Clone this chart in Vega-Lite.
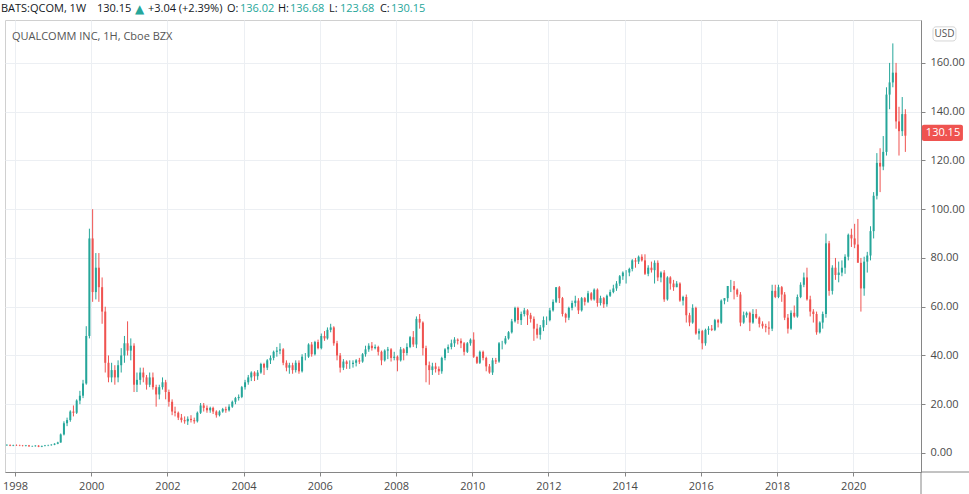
{
  "$schema": "https://vega.github.io/schema/vega-lite/v6.json",
  "width": 916,
  "height": 452,
  "autosize": {"type": "none"},
  "padding": {"left": 5, "top": 20, "right": 48, "bottom": 22},
  "background": "white",
  "config": {
    "view": {"stroke": "#d0d0d0", "strokeWidth": 1},
    "font": "Open Sans",
    "axis": {
      "labelFont": "Open Sans",
      "labelFontSize": 11,
      "labelColor": "#4a4a4a",
      "domainColor": "#868686",
      "tickColor": "#868686",
      "tickSize": 4,
      "gridColor": "#eceff3",
      "labelPadding": 4,
      "title": null
    }
  },
  "datasets": {
    "qcom": [
      {"d":"1997-10-15","o":3.2,"h":3.6,"l":2.9,"c":3.3},
      {"d":"1997-11-15","o":3.3,"h":3.5,"l":2.8,"c":3.0},
      {"d":"1997-12-15","o":3.0,"h":3.4,"l":2.8,"c":3.2},
      {"d":"1998-01-15","o":3.2,"h":3.5,"l":2.9,"c":3.1},
      {"d":"1998-02-15","o":3.1,"h":3.4,"l":2.8,"c":3.0},
      {"d":"1998-03-15","o":3.0,"h":3.3,"l":2.7,"c":2.9},
      {"d":"1998-04-15","o":2.9,"h":3.3,"l":2.7,"c":3.1},
      {"d":"1998-05-15","o":3.1,"h":3.3,"l":2.6,"c":2.7},
      {"d":"1998-06-15","o":2.7,"h":3.0,"l":2.5,"c":2.8},
      {"d":"1998-07-15","o":2.8,"h":3.2,"l":2.6,"c":3.0},
      {"d":"1998-08-15","o":3.0,"h":3.2,"l":2.4,"c":2.6},
      {"d":"1998-09-15","o":2.6,"h":3.0,"l":2.4,"c":2.9},
      {"d":"1998-10-15","o":2.9,"h":3.3,"l":2.7,"c":3.1},
      {"d":"1998-11-15","o":3.1,"h":3.4,"l":2.8,"c":3.2},
      {"d":"1998-12-15","o":3.2,"h":3.6,"l":3.0,"c":3.4},
      {"d":"1999-01-15","o":3.4,"h":4.0,"l":3.2,"c":3.8},
      {"d":"1999-02-15","o":3.8,"h":4.6,"l":3.6,"c":4.3},
      {"d":"1999-03-15","o":4.3,"h":8.0,"l":4.2,"c":7.6},
      {"d":"1999-04-15","o":7.6,"h":13.0,"l":7.2,"c":12.2},
      {"d":"1999-05-15","o":12.2,"h":14.5,"l":11.0,"c":13.5},
      {"d":"1999-06-15","o":13.5,"h":17.5,"l":12.8,"c":17.0},
      {"d":"1999-07-15","o":17.0,"h":19.5,"l":15.0,"c":16.5},
      {"d":"1999-08-15","o":16.5,"h":22.0,"l":16.0,"c":21.5},
      {"d":"1999-09-15","o":21.5,"h":25.5,"l":20.0,"c":23.5},
      {"d":"1999-10-15","o":23.5,"h":30.0,"l":22.5,"c":28.5},
      {"d":"1999-11-15","o":28.5,"h":52.0,"l":28.0,"c":48.0},
      {"d":"1999-12-15","o":48.0,"h":92.0,"l":47.0,"c":88.0},
      {"d":"2000-01-15","o":88,"h":100,"l":62,"c":66},
      {"d":"2000-02-15","o":66,"h":82,"l":63,"c":76},
      {"d":"2000-03-15","o":76,"h":82,"l":62,"c":68},
      {"d":"2000-04-15","o":68,"h":72,"l":53,"c":58},
      {"d":"2000-05-15","o":58,"h":60,"l":33,"c":37},
      {"d":"2000-06-15","o":37,"h":40,"l":29,"c":31},
      {"d":"2000-07-15","o":31,"h":37,"l":29,"c":34},
      {"d":"2000-08-15","o":34,"h":36,"l":28,"c":31},
      {"d":"2000-09-15","o":31,"h":38,"l":29,"c":36},
      {"d":"2000-10-15","o":36,"h":43,"l":33,"c":40},
      {"d":"2000-11-15","o":40,"h":48,"l":37,"c":45},
      {"d":"2000-12-15","o":45,"h":54,"l":40,"c":42},
      {"d":"2001-01-15","o":42,"h":47,"l":38,"c":44},
      {"d":"2001-02-15","o":44,"h":45,"l":25,"c":28},
      {"d":"2001-03-15","o":28,"h":33,"l":25,"c":30},
      {"d":"2001-04-15","o":30,"h":35,"l":28,"c":33},
      {"d":"2001-05-15","o":33,"h":35,"l":29,"c":31},
      {"d":"2001-06-15","o":31,"h":32,"l":26,"c":28},
      {"d":"2001-07-15","o":28,"h":33,"l":27,"c":31},
      {"d":"2001-08-15","o":31,"h":33,"l":26,"c":27},
      {"d":"2001-09-15","o":27,"h":28,"l":19,"c":24},
      {"d":"2001-10-15","o":24,"h":28,"l":22,"c":27},
      {"d":"2001-11-15","o":27,"h":31,"l":26,"c":29},
      {"d":"2001-12-15","o":29,"h":30,"l":22,"c":25},
      {"d":"2002-01-15","o":25,"h":26,"l":19,"c":21},
      {"d":"2002-02-15","o":21,"h":22,"l":15.5,"c":17},
      {"d":"2002-03-15","o":17,"h":19,"l":15,"c":16.5},
      {"d":"2002-04-15","o":16.5,"h":17,"l":13.5,"c":14.5},
      {"d":"2002-05-15","o":14.5,"h":16,"l":12.5,"c":13.5},
      {"d":"2002-06-15","o":13.5,"h":15,"l":12,"c":13},
      {"d":"2002-07-15","o":13,"h":15,"l":11.5,"c":14},
      {"d":"2002-08-15","o":14,"h":15.5,"l":12.5,"c":13.5},
      {"d":"2002-09-15","o":13.5,"h":14.5,"l":12,"c":13},
      {"d":"2002-10-15","o":13,"h":17,"l":12.5,"c":16.5},
      {"d":"2002-11-15","o":16.5,"h":20.5,"l":16,"c":19.5},
      {"d":"2002-12-15","o":19.5,"h":20.5,"l":17,"c":18.5},
      {"d":"2003-01-15","o":18.5,"h":19.5,"l":16.5,"c":17.5},
      {"d":"2003-02-15","o":17.5,"h":19,"l":16.5,"c":18.5},
      {"d":"2003-03-15","o":18.5,"h":19,"l":16,"c":17},
      {"d":"2003-04-15","o":17,"h":17.5,"l":14.5,"c":15.5},
      {"d":"2003-05-15","o":15.5,"h":17.5,"l":15,"c":17},
      {"d":"2003-06-15","o":17,"h":18.5,"l":16.5,"c":18},
      {"d":"2003-07-15","o":18,"h":19,"l":16.5,"c":17.5},
      {"d":"2003-08-15","o":17.5,"h":20,"l":17,"c":19},
      {"d":"2003-09-15","o":19,"h":21.5,"l":18.5,"c":21},
      {"d":"2003-10-15","o":21,"h":23,"l":20,"c":22.5},
      {"d":"2003-11-15","o":22.5,"h":24,"l":21.5,"c":23},
      {"d":"2003-12-15","o":23,"h":27.5,"l":22.5,"c":27},
      {"d":"2004-01-15","o":27,"h":30,"l":26,"c":29},
      {"d":"2004-02-15","o":29,"h":32,"l":28,"c":31},
      {"d":"2004-03-15","o":31,"h":33.5,"l":29.5,"c":33},
      {"d":"2004-04-15","o":33,"h":33.5,"l":29.5,"c":31.5},
      {"d":"2004-05-15","o":31.5,"h":34,"l":30,"c":33},
      {"d":"2004-06-15","o":33,"h":37,"l":32.5,"c":36.5},
      {"d":"2004-07-15","o":36.5,"h":37,"l":32,"c":35},
      {"d":"2004-08-15","o":35,"h":38.5,"l":34,"c":38},
      {"d":"2004-09-15","o":38,"h":40,"l":36.5,"c":39},
      {"d":"2004-10-15","o":39,"h":42,"l":38,"c":41.5},
      {"d":"2004-11-15","o":41.5,"h":43.5,"l":39.5,"c":42},
      {"d":"2004-12-15","o":42,"h":45,"l":40.5,"c":42.5},
      {"d":"2005-01-15","o":42.5,"h":43,"l":36,"c":37},
      {"d":"2005-02-15","o":37,"h":38,"l":33.5,"c":35},
      {"d":"2005-03-15","o":35,"h":37,"l":32.5,"c":36},
      {"d":"2005-04-15","o":36,"h":37,"l":32.5,"c":34},
      {"d":"2005-05-15","o":34,"h":38,"l":33,"c":37},
      {"d":"2005-06-15","o":37,"h":38,"l":32.5,"c":33.5},
      {"d":"2005-07-15","o":33.5,"h":40.5,"l":33,"c":39.5},
      {"d":"2005-08-15","o":39.5,"h":41,"l":38,"c":39.5},
      {"d":"2005-09-15","o":39.5,"h":45,"l":39,"c":44.5},
      {"d":"2005-10-15","o":44.5,"h":45.5,"l":39.5,"c":40.5},
      {"d":"2005-11-15","o":40.5,"h":46,"l":40,"c":45.5},
      {"d":"2005-12-15","o":45.5,"h":46.5,"l":42.5,"c":43},
      {"d":"2006-01-15","o":43,"h":49,"l":42.5,"c":48},
      {"d":"2006-02-15","o":48,"h":50,"l":46,"c":47},
      {"d":"2006-03-15","o":47,"h":51.5,"l":46.5,"c":50.5},
      {"d":"2006-04-15","o":50.5,"h":53,"l":49.5,"c":51.5},
      {"d":"2006-05-15","o":51.5,"h":52,"l":44,"c":45},
      {"d":"2006-06-15","o":45,"h":46,"l":38,"c":40},
      {"d":"2006-07-15","o":40,"h":41,"l":33,"c":35},
      {"d":"2006-08-15","o":35,"h":38.5,"l":34,"c":37.5},
      {"d":"2006-09-15","o":37.5,"h":38,"l":34.5,"c":36.5},
      {"d":"2006-10-15","o":36.5,"h":38,"l":34.5,"c":36.5},
      {"d":"2006-11-15","o":36.5,"h":38,"l":35,"c":37},
      {"d":"2006-12-15","o":37,"h":38.5,"l":35.5,"c":38},
      {"d":"2007-01-15","o":38,"h":39,"l":36.5,"c":37.5},
      {"d":"2007-02-15","o":37.5,"h":41,"l":37,"c":40.5},
      {"d":"2007-03-15","o":40.5,"h":44,"l":39.5,"c":42.5},
      {"d":"2007-04-15","o":42.5,"h":45,"l":41.5,"c":44},
      {"d":"2007-05-15","o":44,"h":45.5,"l":42,"c":43},
      {"d":"2007-06-15","o":43,"h":44.5,"l":42.5,"c":43.5},
      {"d":"2007-07-15","o":43.5,"h":44,"l":40,"c":41.5},
      {"d":"2007-08-15","o":41.5,"h":42,"l":36,"c":38},
      {"d":"2007-09-15","o":38,"h":42.5,"l":37.5,"c":42},
      {"d":"2007-10-15","o":42,"h":43.5,"l":38.5,"c":42.5},
      {"d":"2007-11-15","o":42.5,"h":43,"l":37.5,"c":39},
      {"d":"2007-12-15","o":39,"h":41.5,"l":38,"c":39.5},
      {"d":"2008-01-15","o":39.5,"h":40,"l":33.5,"c":38},
      {"d":"2008-02-15","o":38,"h":43.5,"l":37.5,"c":42.5},
      {"d":"2008-03-15","o":42.5,"h":43,"l":38,"c":41},
      {"d":"2008-04-15","o":41,"h":45,"l":40,"c":43.5},
      {"d":"2008-05-15","o":43.5,"h":48,"l":43,"c":47.5},
      {"d":"2008-06-15","o":47.5,"h":50,"l":43.5,"c":44.5},
      {"d":"2008-07-15","o":44.5,"h":56,"l":43,"c":55},
      {"d":"2008-08-15","o":55,"h":57,"l":51,"c":53.5},
      {"d":"2008-09-15","o":53.5,"h":54,"l":40,"c":43},
      {"d":"2008-10-15","o":43,"h":44,"l":29,"c":36},
      {"d":"2008-11-15","o":36,"h":37.5,"l":28,"c":34},
      {"d":"2008-12-15","o":34,"h":37,"l":32,"c":35.5},
      {"d":"2009-01-15","o":35.5,"h":37,"l":33,"c":34.5},
      {"d":"2009-02-15","o":34.5,"h":35.5,"l":32,"c":33.5},
      {"d":"2009-03-15","o":33.5,"h":39.5,"l":32.5,"c":39},
      {"d":"2009-04-15","o":39,"h":43,"l":38,"c":42.5},
      {"d":"2009-05-15","o":42.5,"h":44.5,"l":41,"c":43.5},
      {"d":"2009-06-15","o":43.5,"h":46.5,"l":42.5,"c":45},
      {"d":"2009-07-15","o":45,"h":47.5,"l":43.5,"c":46.5},
      {"d":"2009-08-15","o":46.5,"h":47,"l":44.5,"c":46},
      {"d":"2009-09-15","o":46,"h":47,"l":43,"c":45},
      {"d":"2009-10-15","o":45,"h":45.5,"l":40,"c":41.5},
      {"d":"2009-11-15","o":41.5,"h":45.5,"l":41,"c":45},
      {"d":"2009-12-15","o":45,"h":47,"l":44,"c":46.5},
      {"d":"2010-01-15","o":46.5,"h":49.5,"l":39,"c":39.5},
      {"d":"2010-02-15","o":39.5,"h":39.5,"l":36.5,"c":37},
      {"d":"2010-03-15","o":37,"h":42,"l":36.5,"c":41.5},
      {"d":"2010-04-15","o":41.5,"h":42,"l":38,"c":39},
      {"d":"2010-05-15","o":39,"h":39.5,"l":33.5,"c":35.5},
      {"d":"2010-06-15","o":35.5,"h":36.5,"l":32.5,"c":33},
      {"d":"2010-07-15","o":33,"h":39,"l":32,"c":38},
      {"d":"2010-08-15","o":38,"h":39,"l":36.5,"c":37.5},
      {"d":"2010-09-15","o":37.5,"h":45.5,"l":37,"c":45},
      {"d":"2010-10-15","o":45,"h":46,"l":42.5,"c":45},
      {"d":"2010-11-15","o":45,"h":48,"l":44.5,"c":47},
      {"d":"2010-12-15","o":47,"h":50,"l":46.5,"c":49.5},
      {"d":"2011-01-15","o":49.5,"h":55,"l":49,"c":54},
      {"d":"2011-02-15","o":54,"h":60,"l":53.5,"c":59.5},
      {"d":"2011-03-15","o":59.5,"h":60,"l":53,"c":54.5},
      {"d":"2011-04-15","o":54.5,"h":58,"l":52.5,"c":57},
      {"d":"2011-05-15","o":57,"h":59.5,"l":56,"c":58.5},
      {"d":"2011-06-15","o":58.5,"h":59,"l":52.5,"c":56.5},
      {"d":"2011-07-15","o":56.5,"h":57.5,"l":53.5,"c":55},
      {"d":"2011-08-15","o":55,"h":56,"l":46,"c":51},
      {"d":"2011-09-15","o":51,"h":53,"l":47,"c":48.5},
      {"d":"2011-10-15","o":48.5,"h":52.5,"l":46.5,"c":51.5},
      {"d":"2011-11-15","o":51.5,"h":56,"l":50,"c":54.5},
      {"d":"2011-12-15","o":54.5,"h":56,"l":52.5,"c":54.5},
      {"d":"2012-01-15","o":54.5,"h":59.5,"l":54,"c":58.5},
      {"d":"2012-02-15","o":58.5,"h":63,"l":58,"c":62},
      {"d":"2012-03-15","o":62,"h":68,"l":61.5,"c":68},
      {"d":"2012-04-15","o":68,"h":68.5,"l":61.5,"c":63.5},
      {"d":"2012-05-15","o":63.5,"h":64,"l":56,"c":57},
      {"d":"2012-06-15","o":57,"h":57.5,"l":53.5,"c":55.5},
      {"d":"2012-07-15","o":55.5,"h":60,"l":54.5,"c":59.5},
      {"d":"2012-08-15","o":59.5,"h":62.5,"l":58.5,"c":61.5},
      {"d":"2012-09-15","o":61.5,"h":64.5,"l":60,"c":62.5},
      {"d":"2012-10-15","o":62.5,"h":63.5,"l":57,"c":58.5},
      {"d":"2012-11-15","o":58.5,"h":64,"l":58,"c":63.5},
      {"d":"2012-12-15","o":63.5,"h":64,"l":60.5,"c":62},
      {"d":"2013-01-15","o":62,"h":66.5,"l":61.5,"c":65.5},
      {"d":"2013-02-15","o":65.5,"h":66,"l":62.5,"c":63},
      {"d":"2013-03-15","o":63,"h":67.5,"l":62.5,"c":67},
      {"d":"2013-04-15","o":67,"h":67.5,"l":60,"c":61.5},
      {"d":"2013-05-15","o":61.5,"h":64.5,"l":60.5,"c":63.5},
      {"d":"2013-06-15","o":63.5,"h":64,"l":59.5,"c":61},
      {"d":"2013-07-15","o":61,"h":65,"l":60,"c":64.5},
      {"d":"2013-08-15","o":64.5,"h":67,"l":64,"c":66},
      {"d":"2013-09-15","o":66,"h":69,"l":65.5,"c":67.5},
      {"d":"2013-10-15","o":67.5,"h":70.5,"l":66.5,"c":69.5},
      {"d":"2013-11-15","o":69.5,"h":73,"l":68.5,"c":72.5},
      {"d":"2013-12-15","o":72.5,"h":74.5,"l":71,"c":74},
      {"d":"2014-01-15","o":74,"h":75,"l":69.5,"c":74},
      {"d":"2014-02-15","o":74,"h":76,"l":72.5,"c":75.5},
      {"d":"2014-03-15","o":75.5,"h":79.5,"l":74.5,"c":79},
      {"d":"2014-04-15","o":79,"h":80,"l":76,"c":78.5},
      {"d":"2014-05-15","o":78.5,"h":81,"l":77.5,"c":80.5},
      {"d":"2014-06-15","o":80.5,"h":81.5,"l":78.5,"c":79},
      {"d":"2014-07-15","o":79,"h":81.5,"l":73,"c":73.5},
      {"d":"2014-08-15","o":73.5,"h":77,"l":72.5,"c":76},
      {"d":"2014-09-15","o":76,"h":78.5,"l":74,"c":75},
      {"d":"2014-10-15","o":75,"h":79,"l":69.5,"c":78},
      {"d":"2014-11-15","o":78,"h":79,"l":70.5,"c":72},
      {"d":"2014-12-15","o":72,"h":74.5,"l":70,"c":74},
      {"d":"2015-01-15","o":74,"h":75,"l":62,"c":63},
      {"d":"2015-02-15","o":63,"h":72.5,"l":62.5,"c":72},
      {"d":"2015-03-15","o":72,"h":72.5,"l":67,"c":69.5},
      {"d":"2015-04-15","o":69.5,"h":71,"l":66.5,"c":68},
      {"d":"2015-05-15","o":68,"h":70.5,"l":68,"c":69.5},
      {"d":"2015-06-15","o":69.5,"h":70,"l":62,"c":62.5},
      {"d":"2015-07-15","o":62.5,"h":64.5,"l":60.5,"c":64},
      {"d":"2015-08-15","o":64,"h":65,"l":53.5,"c":56.5},
      {"d":"2015-09-15","o":56.5,"h":57.5,"l":52,"c":53.5},
      {"d":"2015-10-15","o":53.5,"h":61,"l":53,"c":59.5},
      {"d":"2015-11-15","o":59.5,"h":60,"l":48.5,"c":49},
      {"d":"2015-12-15","o":49,"h":51,"l":46.5,"c":50},
      {"d":"2016-01-15","o":50,"h":50.5,"l":42.5,"c":45},
      {"d":"2016-02-15","o":45,"h":51,"l":44,"c":50.5},
      {"d":"2016-03-15","o":50.5,"h":52,"l":48.5,"c":51},
      {"d":"2016-04-15","o":51,"h":52.5,"l":50,"c":50.5},
      {"d":"2016-05-15","o":50.5,"h":55,"l":50,"c":54.5},
      {"d":"2016-06-15","o":54.5,"h":55,"l":51.5,"c":53.5},
      {"d":"2016-07-15","o":53.5,"h":63,"l":53,"c":62.5},
      {"d":"2016-08-15","o":62.5,"h":63.5,"l":61,"c":63.5},
      {"d":"2016-09-15","o":63.5,"h":68.5,"l":62,"c":68.5},
      {"d":"2016-10-15","o":68.5,"h":71,"l":66,"c":68.5},
      {"d":"2016-11-15","o":68.5,"h":70.5,"l":63,"c":67},
      {"d":"2016-12-15","o":67,"h":67.5,"l":64,"c":65},
      {"d":"2017-01-15","o":65,"h":66,"l":52,"c":53.5},
      {"d":"2017-02-15","o":53.5,"h":58,"l":53,"c":56.5},
      {"d":"2017-03-15","o":56.5,"h":58,"l":55.5,"c":57.5},
      {"d":"2017-04-15","o":57.5,"h":58,"l":50,"c":53.5},
      {"d":"2017-05-15","o":53.5,"h":59,"l":53,"c":57},
      {"d":"2017-06-15","o":57,"h":59,"l":55,"c":55.5},
      {"d":"2017-07-15","o":55.5,"h":56,"l":51.5,"c":53},
      {"d":"2017-08-15","o":53,"h":54,"l":51,"c":52},
      {"d":"2017-09-15","o":52,"h":53,"l":49.5,"c":51.5},
      {"d":"2017-10-15","o":51.5,"h":54,"l":48.5,"c":51},
      {"d":"2017-11-15","o":51,"h":69,"l":50,"c":66.5},
      {"d":"2017-12-15","o":66.5,"h":69,"l":63.5,"c":64},
      {"d":"2018-01-15","o":64,"h":69,"l":63.5,"c":68},
      {"d":"2018-02-15","o":68,"h":68.5,"l":62,"c":65},
      {"d":"2018-03-15","o":65,"h":66,"l":54.5,"c":55.5},
      {"d":"2018-04-15","o":55.5,"h":57,"l":49,"c":51},
      {"d":"2018-05-15","o":51,"h":58.5,"l":50.5,"c":57.5},
      {"d":"2018-06-15","o":57.5,"h":60.5,"l":55.5,"c":56},
      {"d":"2018-07-15","o":56,"h":65,"l":55.5,"c":64},
      {"d":"2018-08-15","o":64,"h":70,"l":63.5,"c":69},
      {"d":"2018-09-15","o":69,"h":74,"l":68,"c":72},
      {"d":"2018-10-15","o":72,"h":76,"l":62.5,"c":63},
      {"d":"2018-11-15","o":63,"h":64.5,"l":56,"c":58},
      {"d":"2018-12-15","o":58,"h":59,"l":53.5,"c":57},
      {"d":"2019-01-15","o":57,"h":58,"l":48.5,"c":49.5},
      {"d":"2019-02-15","o":49.5,"h":54,"l":49,"c":53.5},
      {"d":"2019-03-15","o":53.5,"h":58,"l":51,"c":57},
      {"d":"2019-04-15","o":57,"h":90,"l":55.5,"c":86},
      {"d":"2019-05-15","o":86,"h":87,"l":64.5,"c":66.5},
      {"d":"2019-06-15","o":66.5,"h":77,"l":65,"c":76},
      {"d":"2019-07-15","o":76,"h":80,"l":71,"c":73},
      {"d":"2019-08-15","o":73,"h":78.5,"l":70,"c":74},
      {"d":"2019-09-15","o":74,"h":79,"l":72.5,"c":76},
      {"d":"2019-10-15","o":76,"h":81.5,"l":73.5,"c":80.5},
      {"d":"2019-11-15","o":80.5,"h":90,"l":79,"c":89.5},
      {"d":"2019-12-15","o":89.5,"h":92,"l":84.5,"c":88},
      {"d":"2020-01-15","o":88,"h":94,"l":84,"c":85.5},
      {"d":"2020-02-15","o":85.5,"h":96,"l":80,"c":78},
      {"d":"2020-03-15","o":78,"h":80,"l":58,"c":67.5},
      {"d":"2020-04-15","o":67.5,"h":80.5,"l":64.5,"c":78.5},
      {"d":"2020-05-15","o":78.5,"h":82.5,"l":74,"c":81},
      {"d":"2020-06-15","o":81,"h":93,"l":79,"c":91},
      {"d":"2020-07-15","o":91,"h":107,"l":88,"c":105.5},
      {"d":"2020-08-15","o":105.5,"h":123,"l":104,"c":119},
      {"d":"2020-09-15","o":119,"h":125,"l":107,"c":117.5},
      {"d":"2020-10-15","o":117.5,"h":130,"l":116,"c":123.5},
      {"d":"2020-11-15","o":123.5,"h":150,"l":122,"c":147},
      {"d":"2020-12-15","o":147,"h":160,"l":141,"c":152},
      {"d":"2021-01-15","o":152,"h":168,"l":150,"c":156},
      {"d":"2021-02-15","o":156,"h":160,"l":133,"c":136},
      {"d":"2021-03-15","o":136,"h":142,"l":122,"c":132},
      {"d":"2021-04-15","o":132,"h":146,"l":130,"c":139},
      {"d":"2021-05-15","o":139,"h":141,"l":123.5,"c":130.15}
    ]
  },
  "layer": [
    {
      "data": {"name": "qcom"},
      "mark": {"type": "rule", "strokeWidth": 1},
      "encoding": {
        "x": {
          "field": "d", "type": "temporal", "title": null,
          "scale": {"domain": [{"year": 1997, "month": 9, "date": 27}, {"year": 2021, "month": 10, "date": 12}], "padding": 0},
          "axis": {
            "values": [
              {"year": 1998, "month": 1, "date": 1}, {"year": 2000, "month": 1, "date": 1},
              {"year": 2002, "month": 1, "date": 1}, {"year": 2004, "month": 1, "date": 1},
              {"year": 2006, "month": 1, "date": 1}, {"year": 2008, "month": 1, "date": 1},
              {"year": 2010, "month": 1, "date": 1}, {"year": 2012, "month": 1, "date": 1},
              {"year": 2014, "month": 1, "date": 1}, {"year": 2016, "month": 1, "date": 1},
              {"year": 2018, "month": 1, "date": 1}, {"year": 2020, "month": 1, "date": 1}
            ],
            "format": "%Y", "grid": true, "labelFlush": false, "labelOverlap": false, "title": null
          }
        },
        "y": {
          "field": "l", "type": "quantitative", "title": null,
          "scale": {"domain": [-7.8, 177.6], "nice": false, "zero": false, "padding": 0},
          "axis": {"orient": "right", "values": [0, 20, 40, 60, 80, 100, 120, 140, 160], "format": ".2f", "grid": true, "labelPadding": 5, "title": null}
        },
        "y2": {"field": "h"},
        "color": {"condition": {"test": "datum.c >= datum.o", "value": "#26a69a"}, "value": "#ef5350"}
      }
    },
    {
      "data": {"name": "qcom"},
      "mark": {"type": "bar", "size": 2},
      "encoding": {
        "x": {"field": "d", "type": "temporal"},
        "y": {"field": "o", "type": "quantitative"},
        "y2": {"field": "c"},
        "color": {"condition": {"test": "datum.c >= datum.o", "value": "#26a69a"}, "value": "#ef5350"}
      }
    },
    {
      "data": {"values": [{}]},
      "mark": {"type": "rule", "color": "#868686", "strokeWidth": 1},
      "encoding": {
        "x": {"datum": {"year": 2021, "month": 10, "date": 12}, "type": "temporal"},
        "x2": {"datum": {"year": 2023, "month": 2, "date": 1}},
        "y": {"datum": -7.8, "type": "quantitative"}
      }
    },
    {
      "data": {"values": [{}]},
      "mark": {"type": "rule", "color": "#868686", "strokeWidth": 1},
      "encoding": {
        "x": {"datum": {"year": 2021, "month": 10, "date": 12}, "type": "temporal"},
        "y": {"datum": -7.8, "type": "quantitative"},
        "y2": {"datum": -18}
      }
    },
    {
      "data": {"values": [{}]},
      "mark": {"type": "rect", "fill": "white", "stroke": "#d6d6d6", "cornerRadius": 3},
      "encoding": {
        "x": {"datum": {"year": 2022, "month": 2, "date": 4}, "type": "temporal"},
        "x2": {"datum": {"year": 2022, "month": 9, "date": 12}},
        "y": {"datum": 174.8, "type": "quantitative"},
        "y2": {"datum": 169.0}
      }
    },
    {
      "data": {"values": [{}]},
      "mark": {"type": "text", "fontSize": 10, "color": "#555555", "align": "center", "baseline": "middle", "font": "Open Sans"},
      "encoding": {
        "x": {"datum": {"year": 2022, "month": 5, "date": 25}, "type": "temporal"},
        "y": {"datum": 171.9, "type": "quantitative"},
        "text": {"value": "USD"}
      }
    },
    {
      "data": {"values": [{}]},
      "mark": {"type": "rect", "fill": "#ef5350", "cornerRadius": 2},
      "encoding": {
        "x": {"datum": {"year": 2021, "month": 10, "date": 21}, "type": "temporal"},
        "x2": {"datum": {"year": 2022, "month": 11, "date": 18}},
        "y": {"datum": 134.6, "type": "quantitative"},
        "y2": {"datum": 128.0}
      }
    },
    {
      "data": {"values": [{}]},
      "mark": {"type": "text", "fontSize": 11, "color": "white", "align": "center", "baseline": "middle", "font": "Open Sans"},
      "encoding": {
        "x": {"datum": {"year": 2022, "month": 5, "date": 11}, "type": "temporal"},
        "y": {"datum": 131.3, "type": "quantitative"},
        "text": {"value": "130.15"}
      }
    },
    {
      "data": {"values": [{}]},
      "mark": {"type": "text", "fontSize": 11, "color": "#555555", "align": "left", "baseline": "middle", "font": "Open Sans"},
      "encoding": {
        "x": {"datum": {"year": 1997, "month": 12, "date": 2}, "type": "temporal"},
        "y": {"datum": 170.7, "type": "quantitative"},
        "text": {"value": "QUALCOMM INC, 1H, Cboe BZX"}
      }
    },
    {
      "data": {"values": [{}]},
      "mark": {"type": "text", "fontSize": 11, "color": "#131722", "align": "left", "baseline": "middle", "font": "Open Sans"},
      "encoding": {
        "x": {"datum": {"year": 1997, "month": 8, "date": 19}, "type": "temporal"},
        "y": {"datum": 182.2, "type": "quantitative"},
        "text": {"value": "BATS:QCOM, 1W"}
      }
    },
    {
      "data": {"values": [{}]},
      "mark": {"type": "text", "fontSize": 11, "color": "#131722", "align": "left", "baseline": "middle", "font": "Open Sans"},
      "encoding": {
        "x": {"datum": {"year": 2000, "month": 2, "date": 25}, "type": "temporal"},
        "y": {"datum": 182.2, "type": "quantitative"},
        "text": {"value": "130.15"}
      }
    },
    {
      "data": {"values": [{}]},
      "mark": {"type": "text", "fontSize": 12, "color": "#26a69a", "align": "left", "baseline": "middle", "font": "DejaVu Sans"},
      "encoding": {
        "x": {"datum": {"year": 2001, "month": 2, "date": 24}, "type": "temporal"},
        "y": {"datum": 182.2, "type": "quantitative"},
        "text": {"value": "▲"}
      }
    },
    {
      "data": {"values": [{}]},
      "mark": {"type": "text", "fontSize": 11, "color": "#131722", "align": "left", "baseline": "middle", "font": "Open Sans"},
      "encoding": {
        "x": {"datum": {"year": 2001, "month": 6, "date": 28}, "type": "temporal"},
        "y": {"datum": 182.2, "type": "quantitative"},
        "text": {"value": "+3.04 (+2.39%)"}
      }
    },
    {
      "data": {"values": [{}]},
      "mark": {"type": "text", "fontSize": 11, "color": "#131722", "align": "left", "baseline": "middle", "font": "Open Sans"},
      "encoding": {
        "x": {"datum": {"year": 2003, "month": 7, "date": 25}, "type": "temporal"},
        "y": {"datum": 182.2, "type": "quantitative"},
        "text": {"value": "O:"}
      }
    },
    {
      "data": {"values": [{}]},
      "mark": {"type": "text", "fontSize": 11, "color": "#26a69a", "align": "left", "baseline": "middle", "font": "Open Sans"},
      "encoding": {
        "x": {"datum": {"year": 2003, "month": 11, "date": 27}, "type": "temporal"},
        "y": {"datum": 182.2, "type": "quantitative"},
        "text": {"value": "136.02"}
      }
    },
    {
      "data": {"values": [{}]},
      "mark": {"type": "text", "fontSize": 11, "color": "#131722", "align": "left", "baseline": "middle", "font": "Open Sans"},
      "encoding": {
        "x": {"datum": {"year": 2004, "month": 11, "date": 25}, "type": "temporal"},
        "y": {"datum": 182.2, "type": "quantitative"},
        "text": {"value": "H:"}
      }
    },
    {
      "data": {"values": [{}]},
      "mark": {"type": "text", "fontSize": 11, "color": "#26a69a", "align": "left", "baseline": "middle", "font": "Open Sans"},
      "encoding": {
        "x": {"datum": {"year": 2005, "month": 3, "date": 21}, "type": "temporal"},
        "y": {"datum": 182.2, "type": "quantitative"},
        "text": {"value": "136.68"}
      }
    },
    {
      "data": {"values": [{}]},
      "mark": {"type": "text", "fontSize": 11, "color": "#131722", "align": "left", "baseline": "middle", "font": "Open Sans"},
      "encoding": {
        "x": {"datum": {"year": 2006, "month": 3, "date": 30}, "type": "temporal"},
        "y": {"datum": 182.2, "type": "quantitative"},
        "text": {"value": "L:"}
      }
    },
    {
      "data": {"values": [{}]},
      "mark": {"type": "text", "fontSize": 11, "color": "#26a69a", "align": "left", "baseline": "middle", "font": "Open Sans"},
      "encoding": {
        "x": {"datum": {"year": 2006, "month": 7, "date": 13}, "type": "temporal"},
        "y": {"datum": 182.2, "type": "quantitative"},
        "text": {"value": "123.68"}
      }
    },
    {
      "data": {"values": [{}]},
      "mark": {"type": "text", "fontSize": 11, "color": "#131722", "align": "left", "baseline": "middle", "font": "Open Sans"},
      "encoding": {
        "x": {"datum": {"year": 2007, "month": 7, "date": 31}, "type": "temporal"},
        "y": {"datum": 182.2, "type": "quantitative"},
        "text": {"value": "C:"}
      }
    },
    {
      "data": {"values": [{}]},
      "mark": {"type": "text", "fontSize": 11, "color": "#26a69a", "align": "left", "baseline": "middle", "font": "Open Sans"},
      "encoding": {
        "x": {"datum": {"year": 2007, "month": 11, "date": 14}, "type": "temporal"},
        "y": {"datum": 182.2, "type": "quantitative"},
        "text": {"value": "130.15"}
      }
    }
  ]
}
